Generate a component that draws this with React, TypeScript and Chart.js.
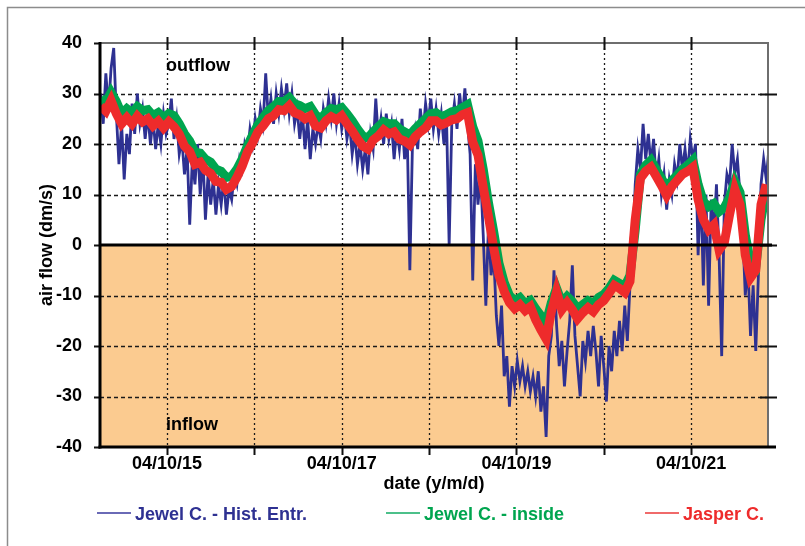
import React, { useEffect, useRef } from 'react';
import { Chart, registerables } from 'chart.js';

Chart.register(...registerables);

// ---- axis ranges / ticks ----
const X_MIN = 14.233;
const X_MAX = 21.88;
const GRID_DAYS = [15, 16, 17, 18, 19, 20, 21];
const LABELED_DAYS = [15, 17, 19, 21];
const DAY_LABELS = ['04/10/15', '04/10/17', '04/10/19', '04/10/21'];
const Y_TICKS = [-40, -30, -20, -10, 0, 10, 20, 30, 40];

// ---- series (uniformly sampled in time, day-of-month of Oct 2004) ----
const BAND_T0 = 14.24;
const BAND_STEP = 0.06;
const BLUE_T0 = 14.24;
const BLUE_STEP = 0.03;

const redValues = [
  27.5, 26.5, 28.6, 26.0, 24.0, 25.2, 24.0, 25.5, 24.4, 25.0,
  23.6, 24.5, 23.2, 24.4, 23.4, 22.0, 19.6, 18.5, 16.0, 16.4,
  14.8, 14.2, 12.6, 12.4, 11.0, 11.6, 13.4, 15.6, 18.4, 20.2,
  22.4, 23.6, 25.0, 25.6, 26.8, 26.6, 27.6, 26.2, 25.8, 25.0,
  25.6, 23.6, 23.2, 24.6, 25.4, 24.8, 25.6, 24.0, 22.6, 21.0,
  19.6, 19.0, 20.8, 21.6, 22.8, 22.0, 22.4, 21.0, 20.6, 19.8,
  21.4, 22.4, 23.2, 24.6, 24.6, 23.8, 24.2, 24.8, 25.0, 25.8,
  26.2, 20.4, 17.8, 11.5, 5.6, -0.6, -6.0, -9.2, -11.4, -12.6,
  -11.8, -13.0, -12.2, -14.8, -16.8, -18.6, -13.2, -9.2, -12.8, -11.4,
  -12.8, -14.6, -13.4, -12.4, -13.2, -11.8, -11.0, -9.6, -8.0, -8.6,
  -9.4, -7.2, 5.0, 13.2, 14.6, 15.4, 13.6, 11.8, 9.8, 11.6,
  12.8, 14.0, 14.6, 15.4, 9.0, 5.0, 3.0, 4.0, -1.0, 0.5,
  6.0, 11.0, 8.0, -2.0, -6.5, -5.0, 8.0, 12.0,
];

const greenValues = [
  29.0, 28.2, 30.2, 28.4, 26.0, 27.0, 26.2, 27.4, 26.6, 26.8,
  25.6, 26.2, 25.2, 26.0, 25.6, 24.0, 22.0, 20.6, 18.4, 18.2,
  17.0, 16.4, 15.0, 14.6, 13.4, 13.6, 15.0, 17.0, 19.6, 21.8,
  23.8, 25.2, 26.6, 27.4, 28.4, 28.4, 29.2, 28.0, 27.6, 27.0,
  27.4, 25.8, 25.0, 26.2, 27.0, 26.8, 27.2, 26.0, 24.6, 23.0,
  21.6, 21.2, 22.4, 23.4, 24.4, 24.0, 24.0, 23.0, 22.4, 21.8,
  23.0, 24.0, 25.0, 26.0, 26.2, 25.4, 25.8, 26.4, 26.6, 27.2,
  27.8, 23.4, 20.6, 15.0, 8.4, 2.6, -3.6, -7.4, -10.0, -11.0,
  -10.4, -11.6, -11.0, -12.6, -14.0, -15.4, -11.4, -8.6, -11.4, -10.2,
  -11.2, -12.6, -11.8, -11.0, -11.6, -10.4, -9.8, -8.6, -7.0, -7.6,
  -8.2, -6.0, 3.0, 14.0, 15.8, 16.8, 15.0, 13.2, 11.4, 12.8,
  13.8, 15.0, 15.8, 16.8, 12.0, 8.6, 7.6, 8.2, 6.6, 7.4,
  9.4, 12.6, 10.4, 2.0, -3.6, -4.4, 5.0, 11.0,
];

const blueValues = [
  30, 24, 34, 27, 35, 39, 26, 16, 24, 13,
  22, 18, 28, 22, 30, 24, 27, 21, 26, 20,
  25, 19, 24, 20, 26, 22, 24, 29, 21, 25,
  18, 21, 14, 19, 4, 17, 12, 20, 10, 18,
  5, 14, 8, 13, 6, 12, 8, 13, 6, 11,
  9, 14, 12, 17, 15, 20, 18, 23, 20, 25,
  22, 27, 24, 34, 25, 29, 24, 30, 26, 31,
  27, 32, 26, 30, 24, 27, 21, 26, 19, 25,
  17, 23, 20, 24, 21, 27, 24, 29, 25, 30,
  24, 28, 23, 26, 21, 24, 18, 22, 16, 20,
  15, 19, 14, 22, 19, 29, 21, 25, 20, 26,
  21, 24, 17, 23, 19, 25, 17, 22, -5, 20,
  23, 19, 27, 22, 28, 24, 29, 23, 27, 22,
  26, 20, 25, 0, 24, 28, 23, 30, 25, 31,
  24, 18, -7, 16, 8, 14, 2, -12, 4, -6,
  -2, -14, -20, -12, -26, -22, -32, -24, -28, -23,
  -27, -24, -28, -25, -29, -26, -30, -25, -33, -28,
  -38, -22, -18, -5, -16, -24, -19, -28, -21, -15,
  -4, -18, -24, -30, -19, -23, -17, -22, -16, -21,
  -28, -18, -24, -31, -20, -25, -17, -22, -15, -21,
  -12, -19, -8, -2, 12, 19, 15, 24, 17, 22,
  16, 21, 13, 17, 10, 14, 7, 13, 10, 16,
  13, 20, 15, 19, 14, 21, 17, 20, -2, 12,
  -8, 10, -12, 9, 2, 12, -2, -22, 8, 14,
  12, 20, 14, 17, 10, 3, -10, -4, -18, -8,
  -21, -6, 12, 17, 13, 19,
];

const SERIES_LABELS = ['Jewel C. - Hist. Entr.', 'Jewel C. - inside', 'Jasper C.'];
const BLUE = '#2E3192';
const GREEN = '#00A54F';
const RED = '#EE2B2B';
const ORANGE = '#FBCB90';
const FONT_FAMILY = "'Liberation Sans', Arial, Helvetica, sans-serif";

const toPoints = (vals: number[], t0: number, step: number) =>
  vals.map((v, i) => ({ x: Math.round((t0 + i * step) * 1000) / 1000, y: v }));

const decorPlugin = {
  id: 'decor',
  beforeDraw(chart: any) {
    const { ctx, chartArea: a, scales } = chart;
    const x = scales.x;
    const y = scales.y;
    ctx.save();
    ctx.fillStyle = '#ffffff';
    ctx.fillRect(0, 0, chart.width, chart.height);
    // outer frame
    ctx.strokeStyle = '#8c8c8c';
    ctx.lineWidth = 1.5;
    ctx.strokeRect(7.5, 7.5, chart.width + 20, chart.height + 20);
    // inflow fill
    const y0 = y.getPixelForValue(0);
    ctx.fillStyle = ORANGE;
    ctx.fillRect(a.left, y0, a.right - a.left, a.bottom - y0);
    // horizontal dashed grid
    ctx.strokeStyle = '#1a1a1a';
    ctx.lineWidth = 1.3;
    ctx.setLineDash([4, 3]);
    for (const v of Y_TICKS) {
      if (v <= -40 || v >= 40 || v === 0) continue;
      const py = Math.round(y.getPixelForValue(v)) + 0.5;
      ctx.beginPath();
      ctx.moveTo(a.left, py);
      ctx.lineTo(a.right, py);
      ctx.stroke();
    }
    // vertical dotted grid
    ctx.setLineDash([2, 3]);
    for (const d of GRID_DAYS) {
      const px = Math.round(x.getPixelForValue(d)) + 0.5;
      ctx.beginPath();
      ctx.moveTo(px, a.top);
      ctx.lineTo(px, a.bottom);
      ctx.stroke();
    }
    ctx.setLineDash([]);
    ctx.restore();
  },
  afterDatasetsDraw(chart: any) {
    const { ctx, chartArea: a, scales } = chart;
    const x = scales.x;
    const y = scales.y;
    ctx.save();
    const seg = (x1: number, y1: number, x2: number, y2: number) => {
      ctx.beginPath();
      ctx.moveTo(x1, y1);
      ctx.lineTo(x2, y2);
      ctx.stroke();
    };
    // top & right frame (gray)
    ctx.strokeStyle = '#6e6e6e';
    ctx.lineWidth = 2;
    seg(a.left, a.top, a.right + 1, a.top);
    seg(a.right, a.top, a.right, a.bottom);
    // tick marks
    ctx.strokeStyle = '#111';
    ctx.lineWidth = 2;
    for (const d of GRID_DAYS) {
      const px = Math.round(x.getPixelForValue(d)) + 0.5;
      seg(px, a.top - 6, px, a.top + 7);
      seg(px, a.bottom, px, a.bottom + 8);
    }
    for (const v of Y_TICKS) {
      const py = Math.round(y.getPixelForValue(v)) + 0.5;
      seg(a.left - 6, py, a.left, py);
      if (v > -40 && v < 40) seg(a.right - 8, py, a.right + 9, py);
    }
    // zero line, left and bottom axes (thick black)
    ctx.strokeStyle = '#000';
    ctx.lineWidth = 3;
    const y0 = y.getPixelForValue(0);
    seg(a.left, y0, a.right + 4, y0);
    seg(a.left, a.top - 1, a.left, a.bottom + 1.5);
    seg(a.left - 1.5, a.bottom, a.right + 8, a.bottom);
    // outflow / inflow labels
    ctx.fillStyle = '#000';
    ctx.font = `bold 18px ${FONT_FAMILY}`;
    ctx.textAlign = 'left';
    ctx.textBaseline = 'alphabetic';
    const lx = x.getPixelForValue(15) - 1;
    ctx.fillText('outflow', lx, 71);
    ctx.fillText('inflow', lx, 430);
    // legend
    const items = [
      { label: SERIES_LABELS[0], color: BLUE, line: '#6a6ab6', x: 97 },
      { label: SERIES_LABELS[1], color: GREEN, line: '#4cc08a', x: 386 },
      { label: SERIES_LABELS[2], color: RED, line: '#f06a6a', x: 645 },
    ];
    const ly = 514;
    ctx.textBaseline = 'middle';
    for (const it of items) {
      ctx.strokeStyle = it.line;
      ctx.lineWidth = 2;
      seg(it.x, ly - 1, it.x + 34, ly - 1);
      ctx.fillStyle = it.color;
      ctx.fillText(it.label, it.x + 38, ly + 1);
    }
    ctx.restore();
  },
};

export default function App() {
  const ref = useRef<HTMLCanvasElement | null>(null);
  useEffect(() => {
    if (!ref.current) return;
    const chart = new Chart(ref.current, {
      type: 'line',
      data: {
        datasets: [
          {
            label: SERIES_LABELS[0],
            data: toPoints(blueValues, BLUE_T0, BLUE_STEP),
            borderColor: BLUE,
            borderWidth: 2.8,
            borderJoinStyle: 'miter',
            pointRadius: 0,
            tension: 0,
            order: 3,
          },
          {
            label: SERIES_LABELS[1],
            data: toPoints(greenValues, BAND_T0, BAND_STEP),
            borderColor: GREEN,
            borderWidth: 9,
            pointRadius: 0,
            tension: 0,
            order: 2,
          },
          {
            label: SERIES_LABELS[2],
            data: toPoints(redValues, BAND_T0, BAND_STEP),
            borderColor: RED,
            borderWidth: 9,
            pointRadius: 0,
            tension: 0,
            order: 1,
          },
        ],
      },
      options: {
        animation: false,
        responsive: false,
        devicePixelRatio: 1,
        parsing: false as any,
        layout: { padding: { top: 43, right: 37, left: 0, bottom: 0 } },
        plugins: { legend: { display: false }, tooltip: { enabled: false } },
        scales: {
          x: {
            type: 'linear',
            min: X_MIN,
            max: X_MAX,
            grid: { display: false, drawTicks: false },
            border: { display: false },
            ticks: {
              stepSize: 1,
              includeBounds: false,
              autoSkip: false,
              maxRotation: 0,
              padding: 6,
              color: '#000',
              font: { family: FONT_FAMILY, size: 18, weight: 'bold' },
              callback: (v: any) => {
                const k = LABELED_DAYS.indexOf(Number(v));
                return k >= 0 ? DAY_LABELS[k] : '';
              },
            },
            title: {
              display: true,
              text: 'date (y/m/d)',
              color: '#000',
              font: { family: FONT_FAMILY, size: 18, weight: 'bold' },
              padding: { top: 0, bottom: 51 },
            },
            afterFit: (s: any) => {
              s.height = 99;
            },
          },
          y: {
            min: -40,
            max: 40,
            grid: { display: false, drawTicks: false },
            border: { display: false },
            ticks: {
              stepSize: 10,
              padding: 18,
              color: '#000',
              font: { family: FONT_FAMILY, size: 18, weight: 'bold' },
            },
            title: {
              display: true,
              text: 'air flow (dm/s)',
              color: '#000',
              font: { family: FONT_FAMILY, size: 18, weight: 'bold' },
              padding: { top: 36, bottom: 0 },
            },
            afterFit: (s: any) => {
              s.width = 100;
            },
          },
        },
      },
      plugins: [decorPlugin],
    });
    return () => chart.destroy();
  }, []);
  return (
    <div style={{ position: 'fixed', left: 0, top: 0, width: 805, height: 546, background: '#fff' }}>
      <canvas ref={ref} width={805} height={546} style={{ display: 'block' }} />
    </div>
  );
}
